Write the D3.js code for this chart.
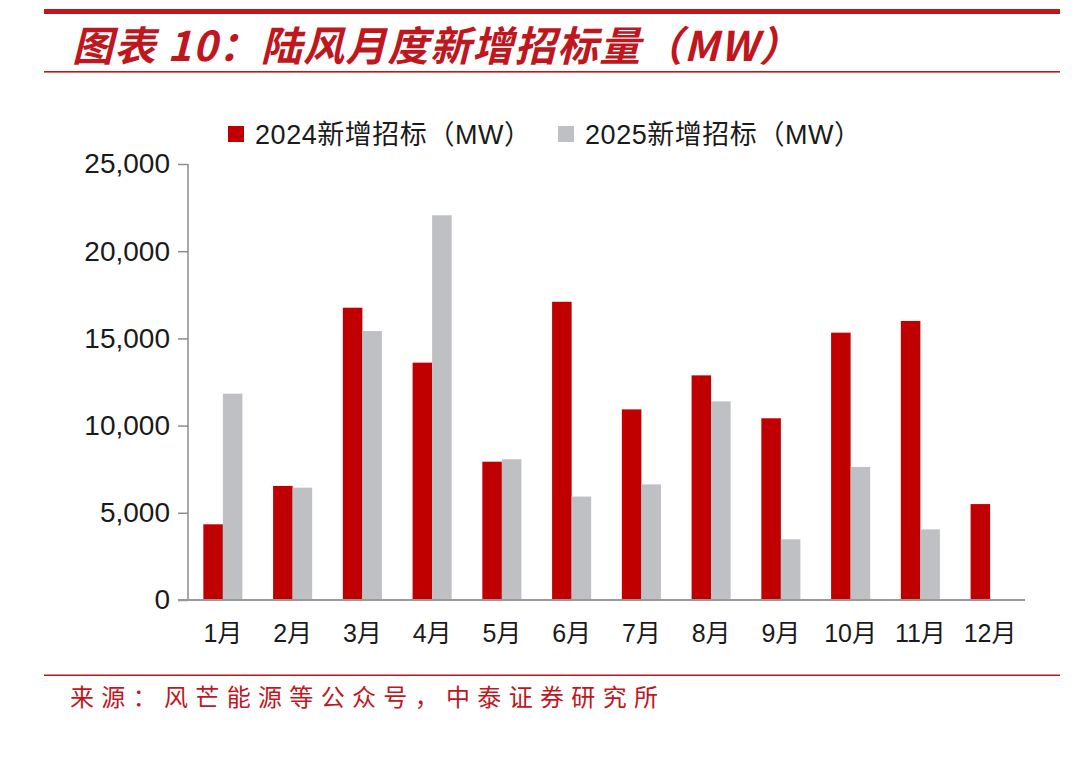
<!DOCTYPE html>
<html><head><meta charset="utf-8">
<script src="https://cdn.jsdelivr.net/npm/d3@7"></script>
<style>
html,body{margin:0;padding:0;background:#fff;}
svg{display:block;}
</style></head>
<body>
<svg id="c" width="1080" height="758"></svg>
<script>
const months = ["1月","2月","3月","4月","5月","6月","7月","8月","9月","10月","11月","12月"];
const series2024 = [4340,6540,16760,13610,7930,17100,10930,12880,10420,15330,16000,5500];
const series2025 = [11830,6440,15420,22060,8070,5930,6630,11390,3480,7630,4050,null];
const seriesNames = ["2024新增招标（MW）","2025新增招标（MW）"];
const yTicks = [0,5000,10000,15000,20000,25000];
const titleText = "图表 10：陆风月度新增招标量（MW）";
const sourceText = "来源：风芒能源等公众号，中泰证券研究所";

const svg = d3.select("#c");
const FONT = "'Liberation Sans', Arial, 'Noto Sans CJK SC', sans-serif";
const RED = "#c00000", GRAY = "#bfc0c4", TRED = "#c0161e";

// header decorations
svg.append("rect").attr("x",44).attr("y",9).attr("width",1016).attr("height",5).attr("fill",TRED);
svg.append("text").attr("x",72).attr("y",61).text(titleText)
  .attr("font-family","'Noto Sans CJK SC', sans-serif").attr("font-weight","bold")
  .attr("font-style","italic").attr("font-size",41).attr("fill",TRED)
  .attr("textLength",728).attr("lengthAdjust","spacing");
svg.append("rect").attr("x",44).attr("y",71).attr("width",1016).attr("height",1.6).attr("fill",TRED);

const x = d3.scaleBand().domain(months).range([188,1025]).paddingInner(0.44).paddingOuter(0.22);
const x1 = d3.scaleBand().domain([0,1]).range([0,x.bandwidth()]);
const y = d3.scaleLinear().domain([0,25000]).range([600,164]);

// bars
const g = svg.append("g");
months.forEach((m,i)=>{
  [series2024[i],series2025[i]].forEach((v,k)=>{
    if(v==null) return;
    g.append("rect").attr("x",x(m)+x1(k)).attr("width",x1.bandwidth())
      .attr("y",y(v)).attr("height",y(0)-y(v)).attr("fill",k?GRAY:RED);
  });
});

// y axis
const ya = svg.append("g").attr("transform","translate(188,0)")
  .call(d3.axisLeft(y).tickValues(yTicks).tickSize(10).tickPadding(8).tickFormat(d3.format(",")));
ya.select(".domain").attr("stroke","#8c8c8c").attr("stroke-width",1.5).attr("d","M0,164V600");
ya.selectAll(".tick line").attr("stroke","#8c8c8c").attr("stroke-width",1.5);
ya.selectAll(".tick text").attr("font-family",FONT).attr("font-size",28).attr("fill","#1a1a1a");

// x axis
const xa = svg.append("g").attr("transform","translate(0,600)")
  .call(d3.axisBottom(x).tickSize(0).tickPadding(24));
xa.select(".domain").attr("stroke","#999").attr("stroke-width",2).attr("d","M178,0H1025");
xa.selectAll(".tick text").attr("font-family",FONT).attr("font-size",25).attr("fill","#1a1a1a");

// legend
const leg = [{x:228,c:RED},{x:558,c:GRAY}];
leg.forEach((l,i)=>{
  svg.append("rect").attr("x",l.x).attr("y",126).attr("width",16).attr("height",16).attr("fill",l.c);
  svg.append("text").attr("x",l.x+27).attr("y",144).text(seriesNames[i])
    .attr("font-family",FONT).attr("font-size",27).attr("fill","#1a1a1a")
    .attr("textLength",276).attr("lengthAdjust","spacing");
});

// source
svg.append("rect").attr("x",44).attr("y",674.5).attr("width",1016).attr("height",1.5).attr("fill",TRED);
svg.append("text").attr("x",70).attr("y",706).text(sourceText)
  .attr("font-family","'Noto Sans CJK SC', sans-serif").attr("font-size",24).attr("fill",TRED)
  .attr("textLength",588).attr("lengthAdjust","spacing");
</script>
</body></html>
